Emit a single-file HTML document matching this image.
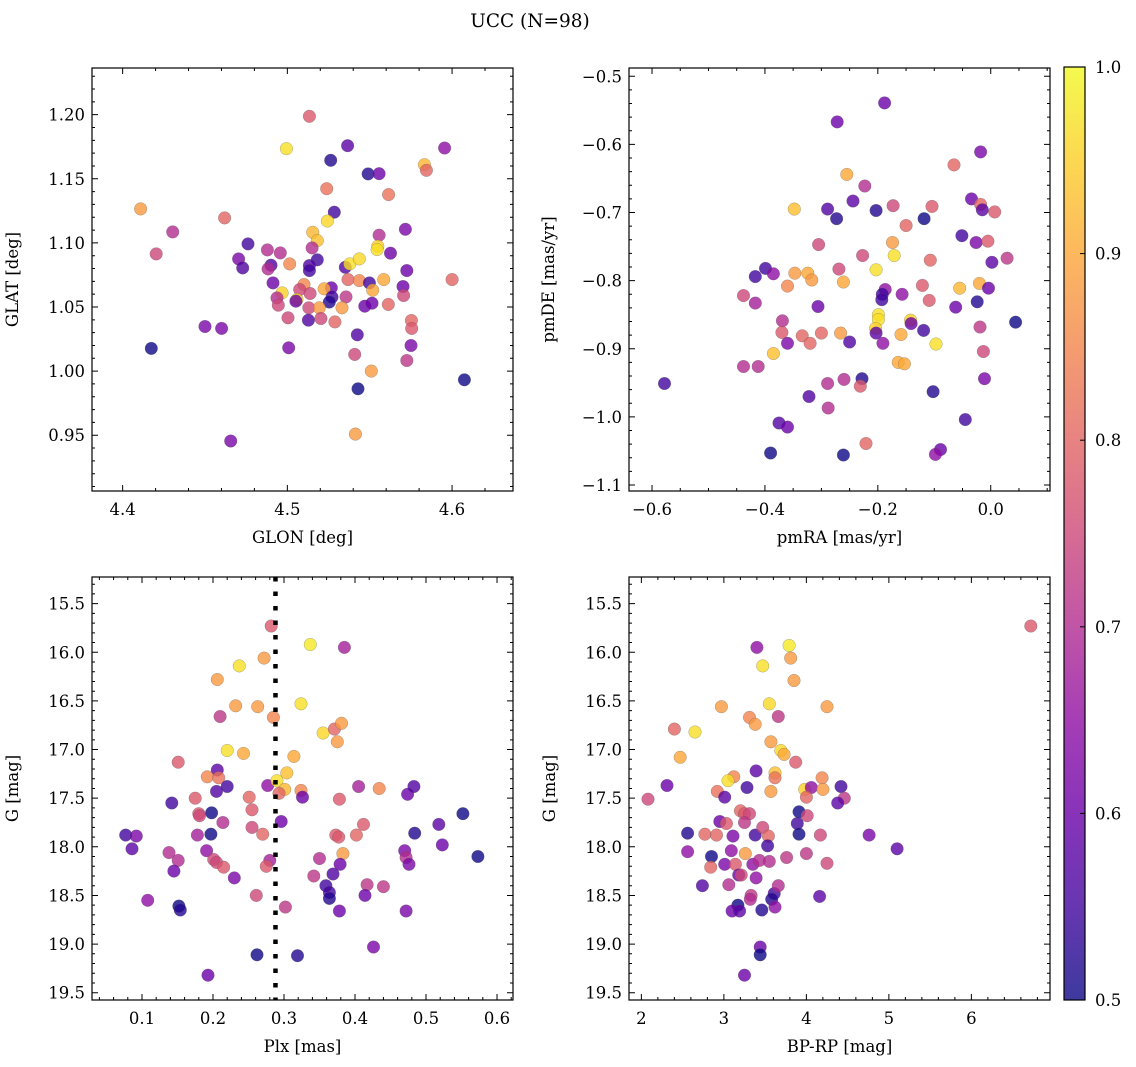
<!DOCTYPE html>
<html><head><meta charset="utf-8">
<style>
html,body{margin:0;padding:0;background:#fff;}
svg{display:block;font-family:"DejaVu Serif","Liberation Serif",serif;}
</style></head>
<body>
<svg id="fig" width="1136" height="1067" viewBox="0 0 1136 1067" xmlns="http://www.w3.org/2000/svg">
<defs>
<linearGradient id="plasma" x1="0" y1="1" x2="0" y2="0">
<stop offset="0" stop-color="#0d0887"/><stop offset="0.1" stop-color="#41049d"/><stop offset="0.2" stop-color="#6a00a8"/><stop offset="0.3" stop-color="#8f0da4"/><stop offset="0.4" stop-color="#b12a90"/><stop offset="0.5" stop-color="#cc4778"/><stop offset="0.6" stop-color="#e16462"/><stop offset="0.7" stop-color="#f2844b"/><stop offset="0.8" stop-color="#fca636"/><stop offset="0.9" stop-color="#fcce25"/><stop offset="1" stop-color="#f0f921"/>
</linearGradient>
</defs>
<text x="530" y="27" font-size="18.5" text-anchor="middle">UCC (N=98)</text>
</svg>
<script>
// Panel 1: GLON / GLAT / membership probability
const glon=[4.5134,4.4994,4.5366,4.5263,4.549,4.5557,4.5955,4.5832,4.5844,4.5239,4.5615,4.4109,4.4619,4.5285,4.5243,4.4304,4.4204,4.5717,4.5154,4.5182,4.515,4.5557,4.5549,4.5545,4.5626,4.4761,4.4879,4.4957,4.4704,4.4729,4.4901,4.4883,4.5014,4.5182,4.5134,4.5134,4.5352,4.5379,4.5437,4.5725,4.6,4.4913,4.5101,4.5075,4.5138,4.5267,4.5223,4.5368,4.5437,4.5498,4.5585,4.5702,4.5706,4.5518,4.5356,4.5271,4.5255,4.4968,4.4937,4.4945,4.5058,4.5052,4.513,4.5194,4.5204,4.5128,4.5004,4.5289,4.5332,4.547,4.5514,4.5613,4.5753,4.5755,4.5751,4.5725,4.45,4.4601,4.4174,4.5008,4.5425,4.5409,4.551,4.5429,4.6075,4.5413,4.4656];
const glat=[1.1987,1.1735,1.1758,1.1644,1.1538,1.154,1.174,1.161,1.1566,1.1423,1.1377,1.1265,1.1195,1.1239,1.1171,1.1086,1.0914,1.1106,1.1083,1.1018,1.0961,1.106,1.0974,1.0948,1.092,1.0992,1.0945,1.0922,1.0875,1.0805,1.0826,1.0797,1.0836,1.0868,1.0823,1.0784,1.081,1.0836,1.0875,1.0784,1.0714,1.0688,1.0675,1.0636,1.0605,1.065,1.0642,1.0714,1.0706,1.0688,1.0714,1.066,1.059,1.0631,1.0579,1.0577,1.0538,1.061,1.0571,1.0514,1.0558,1.0545,1.0494,1.0494,1.041,1.0397,1.0416,1.0384,1.0494,1.0506,1.053,1.052,1.0395,1.0333,1.02,1.0083,1.0348,1.0333,1.0177,1.0182,1.0283,1.013,1.0,0.9862,0.9932,0.9509,0.9455];
const prob1=[.78,.97,.58,.52,.52,.6,.65,.92,.8,.82,.82,.88,.8,.55,.96,.7,.75,.62,.92,.93,.7,.7,.95,.97,.6,.55,.7,.7,.62,.57,.57,.7,.85,.55,.57,.55,.57,.97,.96,.6,.8,.6,.85,.75,.75,.6,.9,.8,.85,.55,.9,.6,.75,.9,.72,.55,.52,.95,.7,.75,.95,.6,.75,.88,.75,.57,.75,.8,.88,.6,.6,.8,.8,.78,.62,.72,.62,.62,.5,.62,.57,.75,.88,.5,.5,.88,.62];
// Panel 2: proper motions
const pmra=[-0.188,-0.272,-0.018,-0.065,-0.255,-0.223,-0.348,-0.289,-0.273,-0.244,-0.203,-0.173,-0.118,-0.104,-0.150,-0.034,-0.018,-0.015,0.007,-0.051,-0.026,-0.005,-0.174,-0.171,-0.305,-0.227,-0.107,0.029,0.002,-0.417,-0.399,-0.385,-0.347,-0.324,-0.317,-0.360,-0.269,-0.261,-0.203,-0.121,-0.055,-0.020,-0.004,-0.438,-0.417,-0.306,-0.187,-0.192,-0.193,-0.157,-0.109,-0.062,-0.024,0.044,-0.369,-0.370,-0.360,-0.334,-0.320,-0.300,-0.266,-0.250,-0.199,-0.199,-0.204,-0.203,-0.191,-0.159,-0.142,-0.141,-0.119,-0.097,-0.019,-0.013,-0.385,-0.438,-0.412,-0.164,-0.153,-0.578,-0.289,-0.260,-0.228,-0.231,-0.322,-0.288,-0.102,-0.011,-0.375,-0.360,-0.045,-0.390,-0.261,-0.221,-0.089,-0.098];
const pmde=[-0.539,-0.567,-0.611,-0.630,-0.644,-0.661,-0.695,-0.695,-0.709,-0.683,-0.697,-0.690,-0.709,-0.691,-0.719,-0.680,-0.688,-0.696,-0.699,-0.734,-0.744,-0.742,-0.744,-0.763,-0.747,-0.763,-0.770,-0.767,-0.773,-0.794,-0.782,-0.790,-0.789,-0.789,-0.799,-0.808,-0.783,-0.802,-0.784,-0.807,-0.811,-0.804,-0.811,-0.822,-0.833,-0.838,-0.813,-0.820,-0.828,-0.820,-0.829,-0.839,-0.831,-0.861,-0.859,-0.876,-0.892,-0.881,-0.892,-0.877,-0.877,-0.890,-0.850,-0.857,-0.870,-0.877,-0.892,-0.879,-0.858,-0.863,-0.873,-0.893,-0.868,-0.904,-0.907,-0.926,-0.926,-0.920,-0.922,-0.951,-0.951,-0.945,-0.944,-0.955,-0.970,-0.987,-0.963,-0.944,-1.009,-1.015,-1.004,-1.053,-1.056,-1.039,-1.048,-1.055];
const prob2=[.6,.6,.62,.8,.9,.7,.93,.57,.52,.58,.52,.75,.5,.78,.8,.6,.8,.58,.78,.55,.62,.78,.88,.97,.75,.75,.8,.72,.58,.55,.55,.65,.88,.9,.88,.85,.75,.9,.97,.78,.92,.9,.6,.75,.68,.6,.65,.55,.55,.65,.78,.6,.52,.5,.7,.78,.62,.8,.8,.8,.88,.57,.97,.97,.95,.58,.65,.9,.95,.6,.55,.97,.72,.75,.93,.7,.7,.9,.9,.55,.7,.7,.52,.78,.57,.7,.52,.62,.57,.6,.55,.5,.5,.8,.6,.65];
// Panel 3: parallax vs G
const plx=[0.282,0.337,0.385,0.272,0.237,0.206,0.232,0.263,0.324,0.210,0.285,0.355,0.371,0.381,0.375,0.220,0.243,0.314,0.151,0.304,0.206,0.192,0.208,0.205,0.220,0.277,0.290,0.301,0.293,0.324,0.326,0.405,0.434,0.474,0.483,0.142,0.175,0.251,0.378,0.180,0.181,0.198,0.255,0.214,0.552,0.518,0.412,0.296,0.077,0.092,0.086,0.178,0.197,0.255,0.270,0.373,0.377,0.402,0.484,0.523,0.573,0.138,0.151,0.191,0.201,0.205,0.215,0.280,0.275,0.383,0.350,0.379,0.470,0.472,0.476,0.145,0.230,0.342,0.369,0.359,0.364,0.364,0.417,0.440,0.414,0.261,0.108,0.152,0.154,0.302,0.378,0.472,0.426,0.262,0.319,0.193];
const gmag3=[15.73,15.92,15.95,16.06,16.14,16.28,16.55,16.56,16.53,16.66,16.67,16.83,16.79,16.73,16.92,17.01,17.04,17.07,17.13,17.24,17.21,17.28,17.29,17.43,17.38,17.37,17.32,17.41,17.45,17.42,17.49,17.38,17.40,17.46,17.38,17.55,17.50,17.49,17.51,17.66,17.68,17.65,17.62,17.75,17.66,17.77,17.77,17.74,17.88,17.89,18.02,17.88,17.87,17.80,17.87,17.88,17.90,17.88,17.86,17.98,18.10,18.06,18.14,18.04,18.13,18.16,18.21,18.14,18.20,18.07,18.12,18.18,18.04,18.11,18.18,18.25,18.32,18.30,18.28,18.40,18.47,18.53,18.39,18.41,18.50,18.50,18.55,18.61,18.65,18.62,18.66,18.66,19.03,19.11,19.12,19.32];
const prob3=[.78,.98,.68,.88,.97,.88,.88,.88,.97,.72,.85,.96,.8,.88,.88,.97,.9,.9,.78,.93,.58,.85,.82,.57,.55,.65,.97,.92,.8,.85,.6,.68,.85,.6,.57,.55,.78,.8,.78,.78,.75,.5,.78,.7,.5,.58,.78,.6,.55,.62,.58,.68,.5,.75,.8,.78,.78,.8,.52,.6,.5,.7,.7,.65,.75,.75,.78,.68,.78,.88,.7,.6,.62,.7,.62,.6,.62,.72,.57,.55,.55,.52,.72,.72,.6,.75,.65,.5,.52,.72,.6,.62,.62,.5,.52,.6];
const plxLine=0.288;
// Panel 4: colour-magnitude
const bprp=[6.72,3.40,3.79,3.81,3.47,3.85,2.97,3.55,4.25,3.66,3.31,3.38,2.40,2.65,2.47,3.57,3.69,3.73,3.87,3.39,3.62,3.62,3.12,3.05,3.28,2.92,3.01,3.57,2.31,2.08,3.98,4.06,4.00,4.19,4.20,4.42,4.46,4.38,3.91,3.89,3.91,4.01,3.20,3.25,3.31,3.25,2.95,3.03,2.56,2.77,2.91,3.11,3.38,3.47,3.54,3.53,4.17,4.76,5.10,2.56,2.85,2.84,3.09,3.26,3.01,3.14,3.18,3.21,3.35,3.43,3.55,3.76,4.00,4.25,3.39,2.74,3.06,3.33,3.32,3.61,3.58,3.66,3.62,4.16,3.17,3.10,3.19,3.46,3.44,3.44,3.25];
const gmag4=[15.73,15.95,15.93,16.06,16.14,16.29,16.56,16.53,16.56,16.66,16.67,16.74,16.79,16.82,17.08,16.92,17.01,17.05,17.13,17.22,17.24,17.29,17.28,17.32,17.39,17.43,17.49,17.43,17.37,17.51,17.41,17.39,17.49,17.29,17.41,17.38,17.50,17.55,17.64,17.76,17.87,17.68,17.63,17.66,17.66,17.75,17.74,17.76,17.86,17.87,17.88,17.89,17.88,17.80,17.89,17.99,17.88,17.88,18.02,18.05,18.10,18.21,18.04,18.07,18.18,18.18,18.29,18.29,18.18,18.14,18.15,18.11,18.07,18.17,18.32,18.40,18.39,18.50,18.54,18.48,18.54,18.40,18.62,18.51,18.60,18.66,18.66,18.65,19.03,19.11,19.32];
const prob4=[.78,.65,.98,.88,.97,.88,.88,.96,.88,.72,.85,.88,.8,.97,.9,.88,.96,.9,.78,.58,.93,.82,.85,.97,.55,.82,.58,.88,.6,.75,.95,.65,.8,.85,.88,.55,.72,.58,.5,.55,.5,.75,.8,.78,.75,.72,.6,.78,.52,.8,.8,.62,.55,.75,.8,.55,.75,.62,.58,.65,.5,.8,.65,.88,.62,.78,.6,.75,.65,.7,.7,.72,.72,.75,.65,.57,.7,.72,.7,.55,.52,.7,.65,.58,.5,.6,.58,.52,.6,.5,.6];
const cbarTicks=[0.5,0.6,0.7,0.8,0.9,1.0];

const NS='http://www.w3.org/2000/svg';
const svg=document.getElementById('fig');
const FS=16.5;
function mk(tag,attrs,parent){const e=document.createElementNS(NS,tag);for(const k in attrs)e.setAttribute(k,attrs[k]);(parent||svg).appendChild(e);return e;}
const PL=[[13,8,135],[65,4,157],[106,0,168],[143,13,164],[177,42,144],[204,71,120],[225,100,98],[242,132,75],[252,166,54],[252,206,37],[240,249,33]];
function plasma(v){let t=(v-0.5)/0.5;t=Math.max(0,Math.min(1,t));const f=t*10,i=Math.min(9,Math.floor(f)),r=f-i;const a=PL[i],b=PL[i+1];return 'rgb('+a.map((c,k)=>Math.round(c+(b[k]-c)*r)).join(',')+')';}
function fmt(v,d){let s=Math.abs(v)<1e-9?(0).toFixed(d):v.toFixed(d);return s.replace('-','\u2212');}

function panel(o){
  const g=mk('g',{});
  
  
  const [x0,x1]=o.px,[y0,y1]=o.py;
  const sx=v=>x0+(v-o.xr[0])/(o.xr[1]-o.xr[0])*(x1-x0);
  const sy=o.inv?v=>y0+(v-o.yr[0])/(o.yr[1]-o.yr[0])*(y1-y0):v=>y1-(v-o.yr[0])/(o.yr[1]-o.yr[0])*(y1-y0);
  const pts=mk('g',{},g);
  
  
  for(let i=0;i<o.xs.length;i++){
    const c=mk('circle',{cx:sx(o.xs[i]).toFixed(1),cy:sy(o.ys[i]).toFixed(1),r:6.3,fill:plasma(o.cs[i]),'fill-opacity':0.8,stroke:'#555','stroke-width':0.4,'stroke-opacity':0.6},pts);
    
    
  }
  if(o.vline!==undefined){
    const l=mk('line',{x1:sx(o.vline),x2:sx(o.vline),y1:y0,y2:y1,stroke:'#000','stroke-width':4.5,'stroke-dasharray':'4.5,10'},g);
    
    
  }
  const fr=mk('rect',{x:x0,y:y0,width:x1-x0,height:y1-y0,fill:'none',stroke:'#000','stroke-width':1.2},g);
  
  
  let d='';
  const eps=1e-9;
  for(let v=Math.ceil(o.xr[0]/o.xmin-eps)*o.xmin;v<=o.xr[1]+eps;v+=o.xmin){const x=sx(v),maj=Math.abs(v/o.xmaj-Math.round(v/o.xmaj))<1e-6,L=maj?6:3;d+=`M${x} ${y1}v${-L}M${x} ${y0}v${L}`;}
  for(let v=Math.ceil(o.yr[0]/o.ymin-eps)*o.ymin;v<=o.yr[1]+eps;v+=o.ymin){const y=sy(v),maj=Math.abs(v/o.ymaj-Math.round(v/o.ymaj))<1e-6,L=maj?6:3;d+=`M${x0} ${y}h${L}M${x1} ${y}h${-L}`;}
  mk('path',{d:d,stroke:'#000','stroke-width':1,fill:'none'},g);
  const xt=mk('g',{},g);
  
  
  for(let v=Math.ceil(o.xr[0]/o.xmaj-eps)*o.xmaj;v<=o.xr[1]+eps;v+=o.xmaj){const t=mk('text',{x:sx(v),y:y1+24,'font-size':FS,'text-anchor':'middle'},xt);t.textContent=fmt(v,o.xd);}
  const yt=mk('g',{},g);
  
  
  for(let v=Math.ceil(o.yr[0]/o.ymaj-eps)*o.ymaj;v<=o.yr[1]+eps;v+=o.ymaj){const t=mk('text',{x:x0-7,y:sy(v)+6,'font-size':FS,'text-anchor':'end'},yt);t.textContent=fmt(v,o.yd);}
  const xl=mk('text',{x:(x0+x1)/2,y:y1+52,'font-size':FS,'text-anchor':'middle'},g);
  
  
  xl.textContent=o.xlab;
  const yx=x0-o.ylo, yc=(y0+y1)/2;
  const yl=mk('text',{x:yx,y:yc,'font-size':FS,'text-anchor':'middle',transform:`rotate(-90 ${yx} ${yc})`},g);
  
  
  yl.textContent=o.ylab;
}
panel({name:'glon-glat-panel',px:[92,513],py:[68,491],xr:[4.3814,4.637],yr:[0.9065,1.2364],xs:glon,ys:glat,cs:prob1,xmaj:0.1,xmin:0.02,ymaj:0.05,ymin:0.01,xd:1,yd:2,xlab:'GLON [deg]',ylab:'GLAT [deg]',ylo:74});
panel({name:'pm-panel',px:[629,1050],py:[68,491],xr:[-0.6408,0.105],yr:[-1.1088,-0.4878],xs:pmra,ys:pmde,cs:prob2,xmaj:0.2,xmin:0.05,ymaj:0.1,ymin:0.02,xd:1,yd:1,xlab:'pmRA [mas/yr]',ylab:'pmDE [mas/yr]',ylo:75});
panel({name:'plx-g-panel',px:[92,513],py:[577,1000],xr:[0.0296,0.6225],yr:[15.226,19.575],inv:true,xs:plx,ys:gmag3,cs:prob3,xmaj:0.1,xmin:0.02,ymaj:0.5,ymin:0.1,xd:1,yd:1,xlab:'Plx [mas]',ylab:'G [mag]',ylo:74,vline:plxLine});
panel({name:'cmd-panel',px:[629,1050],py:[577,1000],xr:[1.85,6.953],yr:[15.226,19.575],inv:true,xs:bprp,ys:gmag4,cs:prob4,xmaj:1,xmin:0.2,ymaj:0.5,ymin:0.1,xd:0,yd:1,xlab:'BP-RP [mag]',ylab:'G [mag]',ylo:74});

// colorbar
const cb=mk('g',{});


const cbx0=1064,cbx1=1085,cby0=67,cby1=1000;
mk('rect',{x:cbx0,y:cby0,width:cbx1-cbx0,height:cby1-cby0,fill:'url(#plasma)','fill-opacity':0.8},cb);
mk('rect',{x:cbx0,y:cby0,width:cbx1-cbx0,height:cby1-cby0,fill:'none',stroke:'#000','stroke-width':1.2},cb);
for(const v of cbarTicks){
  const y=cby1-(v-0.5)/0.5*(cby1-cby0);
  mk('line',{x1:cbx1-5,x2:cbx1,y1:y,y2:y,stroke:'#000','stroke-width':1},cb);
  const t=mk('text',{x:cbx1+10,y:y+6,'font-size':FS},cb);
  
  
  t.textContent=v.toFixed(1);
}
</script>
</body></html>
